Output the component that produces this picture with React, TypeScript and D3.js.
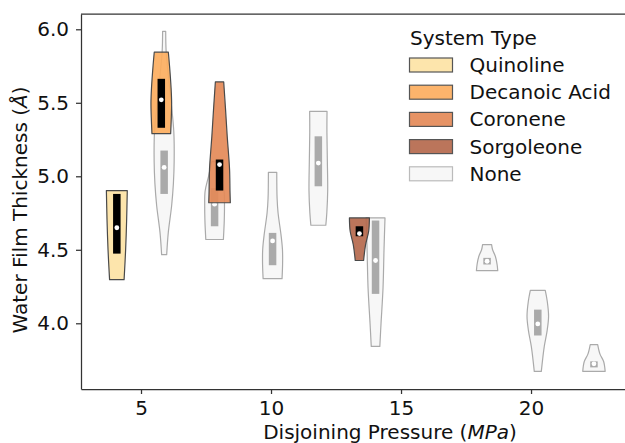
// @ts-nocheck
import { useEffect, useRef } from 'react';
import * as d3 from 'd3';

// system types, in legend order
const systemTypes = ['Quinoline', 'Decanoic Acid', 'Coronene', 'Sorgoleone', 'None'];
const typeColors = ['#fde3a5', '#fcae60', '#e48a58', '#b5694d', '#f7f7f7'];

// one entry per violin: pressure position, system type
const violinPressure = [5.89, 7.83, 10.06, 11.82, 14.02, 18.31, 20.26, 22.42, 4.07, 5.78, 8.02, 13.4];
const violinType = ['None', 'None', 'None', 'None', 'None', 'None', 'None', 'None',
  'Quinoline', 'Decanoic Acid', 'Coronene', 'Sorgoleone'];

// density profiles [thickness, relative density], top to bottom
const violinProfile = [
  [[5.986, 0.14], [5.85, 0.18], [5.7, 0.36], [5.5, 0.64], [5.3, 0.88], [5.1, 0.91], [4.95, 0.84], [4.8, 0.68], [4.62, 0.38], [4.467, 0.23]],
  [[5.1, 0.27], [5.0, 0.55], [4.9, 0.86], [4.8, 0.9], [4.7, 0.88], [4.57, 0.8]],
  [[5.027, 0.38], [4.85, 0.41], [4.75, 0.5], [4.6, 0.77], [4.5, 0.9], [4.4, 0.91], [4.304, 0.86]],
  [[5.442, 0.79], [5.3, 0.78], [5.1, 0.82], [4.9, 0.85], [4.75, 0.77], [4.667, 0.68]],
  [[4.717, 0.86], [4.5, 0.77], [4.24, 0.68], [4.0, 0.5], [3.843, 0.39]],
  [[4.535, 0.41], [4.5, 0.5], [4.456, 0.75], [4.4, 0.91], [4.358, 0.97]],
  [[4.224, 0.68], [4.15, 0.86], [4.048, 0.98], [3.95, 0.85], [3.843, 0.59], [3.673, 0.32]],
  [[3.855, 0.34], [3.79, 0.55], [3.74, 0.88], [3.673, 1.02]],
  [[4.903, 0.95], [4.7, 0.89], [4.5, 0.8], [4.297, 0.66]],
  [[5.844, 0.64], [5.75, 0.75], [5.6, 0.89], [5.5, 0.94], [5.4, 0.91], [5.29, 0.85]],
  [[5.642, 0.38], [5.45, 0.55], [5.27, 0.7], [5.05, 0.91], [4.9, 0.95], [4.82, 0.98]],
  [[4.717, 0.91], [4.626, 0.84], [4.535, 0.56], [4.427, 0.38]],
];

// inner box: first quartile, median, third quartile
const boxQ1 = [4.88, 4.66, 4.395, 4.932, 4.2, 4.4, 3.917, 3.7, 4.474, 5.33, 4.903, 4.592];
const boxMedian = [5.06, 4.81, 4.56, 5.09, 4.427, 4.422, 3.996, 3.724, 4.65, 5.52, 5.08, 4.61];
const boxQ3 = [5.175, 4.92, 4.615, 5.272, 4.699, 4.445, 4.093, 3.741, 4.88, 5.663, 5.114, 4.66];

const xTicks = [5, 10, 15, 20];
const yTicks = [4.0, 4.5, 5.0, 5.5, 6.0];

const App = () => {
  const svgRef = useRef();

  useEffect(() => {
    const root = d3.select(svgRef.current);
    root.selectAll('*').remove();

    const W = 625;
    const H = 443;
    const left = 81, right = 699, top = 14, bottom = 389;
    const font = 'DejaVu Sans, sans-serif';
    const axisColor = '#333333';

    const svg = root.attr('width', W).attr('height', H).style('font-family', font);

    const x = d3.scaleLinear().domain([2.692, 26.46]).range([left, right]);
    const y = d3.scaleLinear().domain([3.553, 6.104]).range([bottom, top]);
    const dens = d3.scaleLinear().domain([0, 1]).range([0, 11]);
    const color = d3.scaleOrdinal().domain(systemTypes).range(typeColors);

    const g = svg.append('g');

    violinProfile.forEach((prof, i) => {
      const cx = x(violinPressure[i]);
      const isNone = violinType[i] === 'None';
      const area = d3.area()
        .y(d => y(d[0]))
        .x0(d => cx - dens(d[1]))
        .x1(d => cx + dens(d[1]))
        .curve(d3.curveCatmullRom);

      g.append('path')
        .attr('d', area(prof))
        .attr('fill', color(violinType[i]))
        .attr('fill-opacity', isNone ? 1 : 0.92)
        .attr('stroke', isNone ? '#aaaaaa' : '#4a4a4a')
        .attr('stroke-width', 1.2)
        .attr('stroke-linejoin', 'round');

      const bw = 7.5;
      g.append('rect')
        .attr('x', cx - bw / 2)
        .attr('y', y(boxQ3[i]))
        .attr('width', bw)
        .attr('height', y(boxQ1[i]) - y(boxQ3[i]))
        .attr('fill', isNone ? '#aaaaaa' : '#000000');

      g.append('circle')
        .attr('cx', cx)
        .attr('cy', y(boxMedian[i]))
        .attr('r', 2.4)
        .attr('fill', '#ffffff');
    });

    // top spine
    svg.append('line').attr('x1', left).attr('x2', right).attr('y1', top).attr('y2', top)
      .attr('stroke', axisColor).attr('stroke-width', 1.25);

    const xAxis = svg.append('g')
      .attr('transform', `translate(0,${bottom})`)
      .call(d3.axisBottom(x).tickValues(xTicks).tickSize(5).tickSizeOuter(0).tickPadding(7).tickFormat(d3.format('d')));
    const yAxis = svg.append('g')
      .attr('transform', `translate(${left},0)`)
      .call(d3.axisLeft(y).tickValues(yTicks).tickSize(5).tickSizeOuter(0).tickPadding(7).tickFormat(d3.format('.1f')));

    [xAxis, yAxis].forEach(a => {
      a.selectAll('path, line').attr('stroke', axisColor).attr('stroke-width', 1.25);
      a.selectAll('text').style('font-size', '20px').style('font-family', font).attr('fill', '#111');
    });

    // axis titles
    const xl = svg.append('text')
      .attr('x', (left + right) / 2)
      .attr('y', 439)
      .attr('text-anchor', 'middle')
      .style('font-size', '20px')
      .attr('fill', '#111');
    xl.append('tspan').text('Disjoining Pressure (');
    xl.append('tspan').style('font-style', 'italic').text('MPa');
    xl.append('tspan').text(')');

    const yl = svg.append('text')
      .attr('transform', 'translate(27,210) rotate(-90)')
      .attr('text-anchor', 'middle')
      .style('font-size', '20px')
      .attr('fill', '#111');
    yl.append('tspan').text('Water Film Thickness (');
    yl.append('tspan').style('font-style', 'italic').text('Å');
    yl.append('tspan').text(')');

    // legend
    const lg = svg.append('g');
    lg.append('text')
      .attr('x', 410)
      .attr('y', 45)
      .style('font-size', '20px')
      .attr('fill', '#111')
      .text('System Type');

    systemTypes.forEach((t, i) => {
      const cy = 65 + i * 27.2;
      lg.append('rect')
        .attr('x', 409.5)
        .attr('y', cy - 7)
        .attr('width', 43)
        .attr('height', 14)
        .attr('fill', color(t))
        .attr('fill-opacity', t === 'None' ? 1 : 0.92)
        .attr('stroke', t === 'None' ? '#bbbbbb' : '#555555')
        .attr('stroke-width', 1.2);
      lg.append('text')
        .attr('x', 469.5)
        .attr('y', cy)
        .attr('dy', '0.35em')
        .style('font-size', '20px')
        .attr('fill', '#111')
        .text(t);
    });
  }, []);

  return <svg ref={svgRef} style={{ position: 'absolute', left: 0, top: 0 }}></svg>;
};

export default App;
